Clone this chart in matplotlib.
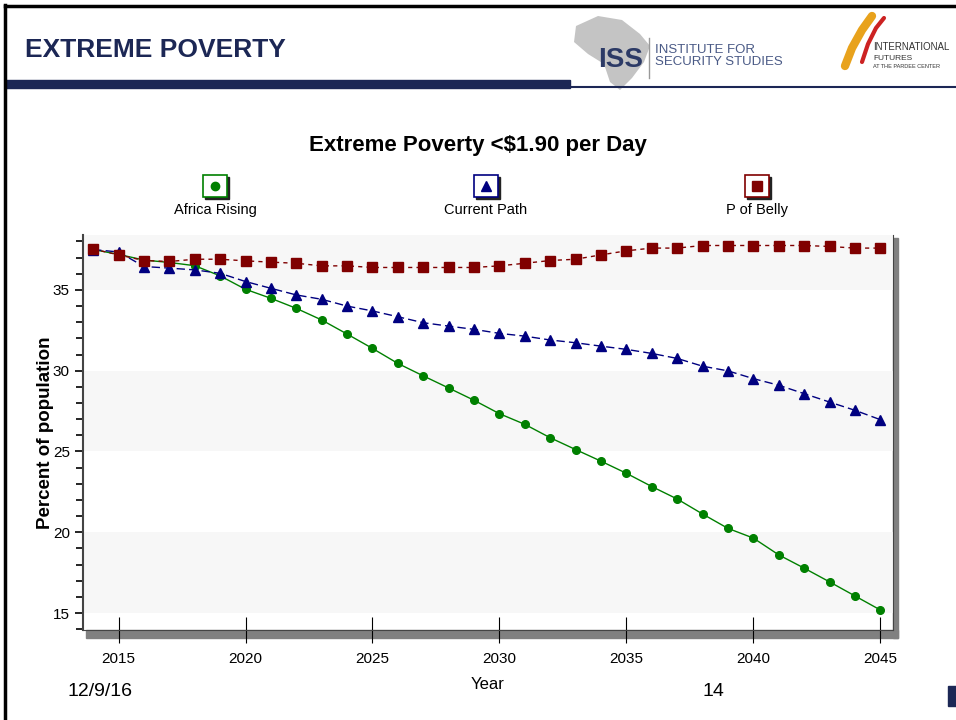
import matplotlib.pyplot as plt
from matplotlib.patches import Rectangle, Polygon

plt.rcParams['font.family'] = ['Liberation Sans', 'DejaVu Sans']

# data (percent of population, 2014-2045)
years = list(range(2014, 2046))
africa_rising = [37.5, 37.2, 36.85, 36.7, 36.5, 35.87, 35.04, 34.48, 33.86, 33.14,
                 32.27, 31.38, 30.45, 29.68, 28.93, 28.17, 27.34, 26.68, 25.85, 25.12,
                 24.4, 23.65, 22.83, 22.06, 21.13, 20.24, 19.64, 18.6, 17.78, 16.93,
                 16.06, 15.19]
current_path = [37.5, 37.35, 36.45, 36.35, 36.24, 36.03, 35.52, 35.1, 34.69, 34.42,
                34.0, 33.7, 33.34, 32.97, 32.76, 32.56, 32.31, 32.14, 31.9, 31.73,
                31.52, 31.32, 31.07, 30.76, 30.28, 29.99, 29.51, 29.1, 28.58, 28.06,
                27.55, 26.97]
p_of_belly = [37.53, 37.17, 36.82, 36.76, 36.9, 36.9, 36.8, 36.72, 36.65, 36.49,
              36.49, 36.39, 36.39, 36.39, 36.39, 36.39, 36.49, 36.65, 36.82, 36.9,
              37.17, 37.42, 37.59, 37.59, 37.75, 37.75, 37.75, 37.75, 37.75, 37.69,
              37.59, 37.59]
series_names = ['Africa Rising', 'Current Path', 'P of Belly']
colors = ['#008000', '#000080', '#800000']
markers = ['o', '^', 's']
styles = ['-', (0, (6, 3)), (0, (3, 3))]

W, H = 956, 720
fig = plt.figure(figsize=(W / 100, H / 100), dpi=100)

# full-figure overlay in pixel coords for the slide decorations
deco = fig.add_axes([0, 0, 1, 1], zorder=0)
deco.set_xlim(0, W)
deco.set_ylim(H, 0)
deco.axis('off')

# slide frame and header
deco.plot([5, 5], [5, 720], color='black', lw=2.5)
deco.plot([5, 956], [6, 6], color='black', lw=2.5)
deco.add_patch(Rectangle((6, 80), 564, 8, color='#1c2755'))
deco.plot([570, 956], [87, 87], color='#1c2755', lw=1.5)
deco.text(25, 50, 'EXTREME POVERTY', fontsize=19, fontweight='bold',
          color='#1c2755', va='center', ha='left')

# ISS logo approximation (grey Africa silhouette + letters)
deco.add_patch(Polygon([(576, 26), (598, 16), (622, 20), (640, 34), (650, 46),
                        (644, 62), (632, 78), (620, 90), (610, 82), (604, 64),
                        (588, 54), (574, 42)], closed=True, color='#c4c4c4', lw=0))
deco.text(598, 60, 'ISS', fontsize=20, fontweight='bold', color='#2c3a66',
          va='center', ha='left')
deco.plot([649, 649], [38, 78], color='#999999', lw=1)
deco.text(655, 56, 'INSTITUTE FOR\nSECURITY STUDIES', fontsize=9.5, color='#4a5a86',
          va='center', ha='left', linespacing=0.95)
# International Futures logo approximation
deco.plot([845, 852, 862, 872], [66, 48, 30, 16], color='#e8a21c', lw=6, solid_capstyle='round')
deco.plot([862, 868, 876, 884], [62, 44, 28, 18], color='#cc2222', lw=3, solid_capstyle='round')
deco.text(873, 47, 'INTERNATIONAL', fontsize=7, color='#333333', va='center', ha='left')
deco.text(873, 58, 'FUTURES', fontsize=6, color='#333333', va='center', ha='left')
deco.text(873, 67, 'AT THE PARDEE CENTER', fontsize=4, color='#333333', va='center', ha='left')

# chart title
deco.text(478, 145, 'Extreme Poverty <$1.90 per Day', fontsize=16, fontweight='bold',
          color='black', ha='center', va='center')

# legend: boxed marker icons with labels below
leg_x = [215, 486, 757]
for cx, name, c, m in zip(leg_x, series_names, colors, markers):
    deco.add_patch(Rectangle((cx - 10, 177), 24, 22, color='#222222'))
    deco.add_patch(Rectangle((cx - 12, 175), 24, 22, facecolor='white', edgecolor=c, lw=1.2))
    deco.plot([cx], [186], marker=m, color=c, ms=7 if m != 'o' else 6)
    deco.text(cx, 210, name, fontsize=10.5, ha='center', va='center')

# plot frame shadow
deco.add_patch(Rectangle((86, 630), 812, 8, color='#808080'))
deco.add_patch(Rectangle((893, 238), 5, 400, color='#808080'))

# footer
deco.text(100, 692, '12/9/16', fontsize=14, ha='center', va='center')
deco.text(713, 692, '14', fontsize=14, ha='center', va='center')
deco.add_patch(Rectangle((948, 686), 8, 20, color='#1c2755'))

# main chart
ax = fig.add_axes([83 / W, 1 - 630 / H, 810 / W, 395 / H], zorder=2)
ax.set_xlim(2013.6, 2045.5)
ax.set_ylim(13.95, 38.4)
for lo, hi in [(15, 20), (25, 30), (35, 38.4)]:
    ax.axhspan(lo, hi, color='#f7f7f7', lw=0, zorder=0)

for vals, c, m, ls in zip([africa_rising, current_path, p_of_belly], colors, markers, styles):
    ax.plot(years, vals, color=c, ls=ls, lw=1, marker=m,
            ms=5.5 if m == 'o' else 7, mec=c, zorder=3)

ax.set_xticks(range(2015, 2046, 5))
ax.set_yticks(range(15, 36, 5))
ax.set_yticks(range(14, 39), minor=True)
ax.tick_params(axis='x', direction='inout', length=19, width=0.8, labelsize=11, pad=6)
ax.tick_params(axis='y', which='major', direction='out', length=6, width=1.2, labelsize=11)
ax.tick_params(axis='y', which='minor', direction='out', length=5, width=1.2)
ax.spines['top'].set_visible(False)
ax.spines['left'].set_color('#444444')
ax.spines['left'].set_linewidth(1.5)
ax.spines['bottom'].set_color('#444444')
ax.spines['right'].set_color('#444444')
ax.set_xlabel('Year', fontsize=12, labelpad=8)
ax.set_ylabel('Percent of population', fontsize=13.5, fontweight='bold')
ax.yaxis.set_label_coords(-0.036, 0.5)
ax.patch.set_alpha(0)

fig.savefig('out.png', dpi=100)
